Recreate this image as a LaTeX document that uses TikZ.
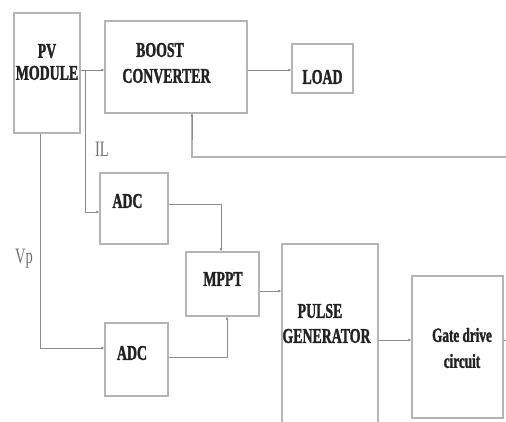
\documentclass[tikz,border=0pt]{standalone}
\usepackage{fontspec}
\setmainfont{Liberation Serif}
\newfontfamily\lbl[FakeStretch=0.66,BoldFeatures={FakeBold=1.5}]{Liberation Serif}
\usetikzlibrary{arrows.meta}
\definecolor{boxline}{HTML}{B4B4B4}
\definecolor{conline}{HTML}{8C8C8C}
\definecolor{txt}{HTML}{222222}
\definecolor{sigtxt}{HTML}{707070}
\begin{document}
\begin{tikzpicture}[x=1pt,y=-1pt,
  box/.style={draw=boxline,line width=1.4pt,fill=white,inner sep=0pt},
  tx/.style={font=\lbl\bfseries\fontsize{21}{22}\selectfont,text=txt,inner sep=0pt,align=center},
  txs/.style={font=\lbl\bfseries\fontsize{20}{26}\selectfont,text=txt,inner sep=0pt,align=center},
  sig/.style={font=\lbl\fontsize{22}{22}\selectfont,text=sigtxt,inner sep=0pt},
  con/.style={draw=conline,line width=0.9pt},
  arr/.style={con,-{Latex[length=3pt,width=3pt]}},
  fbline/.style={draw=boxline,line width=1.6pt}]
\useasboundingbox (0,0) rectangle (506,421);
% boxes
\node[box,minimum width=66pt,minimum height=120pt] (pv) at (47,73) {};
\node[box,minimum width=142pt,minimum height=92pt] (boost) at (176,67) {};
\node[box,minimum width=61pt,minimum height=49pt] (load) at (322.5,68.5) {};
\node[box,minimum width=68pt,minimum height=71pt] (adc1) at (134,208.5) {};
\node[box,minimum width=73pt,minimum height=64pt] (mppt) at (222.5,284) {};
\node[box,minimum width=63pt,minimum height=73pt] (adc2) at (136.5,359.5) {};
\node[box,minimum width=96pt,minimum height=180pt] (pulse) at (330,334) {};
\node[box,minimum width=91pt,minimum height=142pt] (gate) at (457.5,347) {};
% texts
\node[tx] (tpv) at (47,62) {PV\\MODULE};
\node[tx] (tboost) at (160,50) {BOOST};
\node[tx] (tconv) at (166.5,76) {CONVERTER};
\node[tx] (tload) at (322.5,77) {LOAD};
\node[tx] (tadc1) at (127.5,201) {ADC};
\node[tx] (tadc2) at (132,353) {ADC};
\node[tx] (tmppt) at (223,279) {MPPT};
\node[tx] (tpulse) at (320,311) {PULSE};
\node[tx] (tgen) at (326.5,336) {GENERATOR};
\node[txs] (tgate) at (462,348) {Gate drive\\circuit};
\node[sig] (il) at (102,149) {IL};
\node[sig] (vp) at (24,259) {Vp};
% coordinates
\coordinate (tap) at (85,70);
\coordinate (fbin) at (506,157);
\coordinate (out) at (506,340);
% connectors
\draw[arr] (pv.east |- tap) -- (boost.west |- tap);
\draw[arr] (boost.east |- tap) -- (load.west |- tap);
\draw[arr] (tap) |- (adc1.west |- 0,212);
\draw[fbline] (fbin) -| (192,113);
\draw[arr] (192,140) -- (boost.south -| 192,0);
\draw[arr] (pv.south -| 40,0) |- (adc2.west |- 0,348);
\draw[arr] (adc1.east |- 0,204) -| (mppt.north -| 221,0);
\draw[arr] (adc2.east |- 0,357) -| (mppt.south -| 227,0);
\draw[arr] (mppt.east |- 0,291) -- (pulse.west |- 0,291);
\draw[arr] (pulse.east |- 0,340) -- (gate.west |- 0,340);
\draw[con] (gate.east |- out) -- (out);
\end{tikzpicture}
\end{document}
